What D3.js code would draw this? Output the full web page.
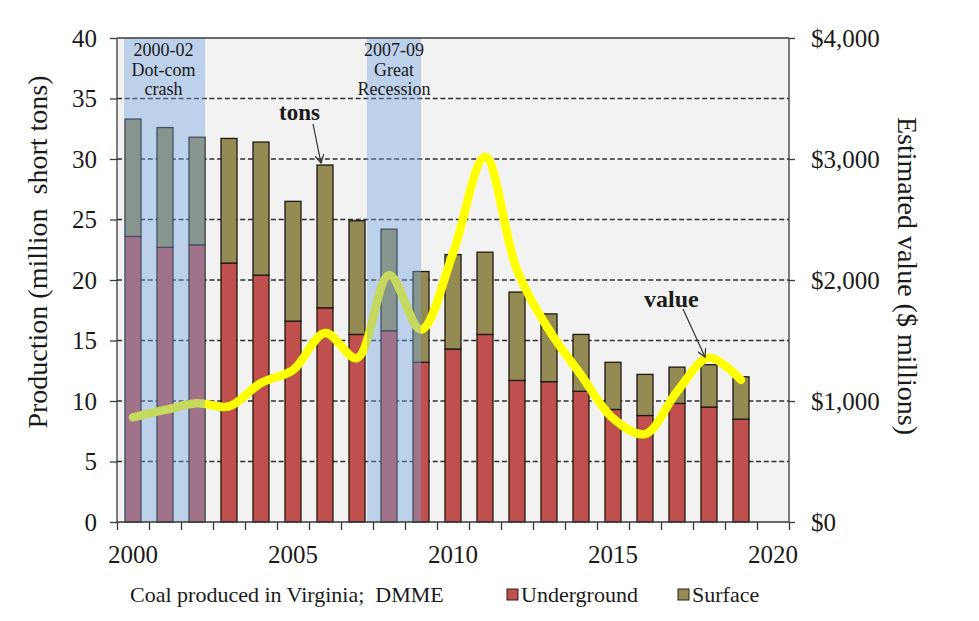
<!DOCTYPE html>
<html>
<head>
<meta charset="utf-8">
<script src="https://cdn.jsdelivr.net/npm/d3@7/dist/d3.min.js"></script>
<style>
  html, body { margin: 0; padding: 0; background: #fff; }
  svg { display: block; }
  text { font-family: "Liberation Serif", "Times New Roman", serif; fill: #1a1a1a; }
</style>
</head>
<body>
<svg id="chart" width="979" height="621"></svg>
<script>
// ---- data ----
const years = [2000,2001,2002,2003,2004,2005,2006,2007,2008,2009,2010,2011,2012,2013,2014,2015,2016,2017,2018,2019];
const axisYears = [2000,2001,2002,2003,2004,2005,2006,2007,2008,2009,2010,2011,2012,2013,2014,2015,2016,2017,2018,2019,2020];
const underground = [23.6,22.7,22.9,21.4,20.4,16.6,17.7,15.5,15.8,13.2,14.3,15.5,11.7,11.6,10.8,9.3,8.8,9.8,9.5,8.5];
const surface     = [9.7,9.9,8.9,10.3,11.0,9.9,11.8,9.4,8.4,7.5,7.8,6.8,7.3,5.6,4.7,3.9,3.4,3.0,3.5,3.5];
const valueMil    = [865,926,981,955,1149,1256,1562,1355,2041,1590,2221,3019,2083,1587,1215,857,727,1077,1358,1174];
const leftTicks   = [0,5,10,15,20,25,30,35,40];
const gridTicks   = [5,10,15,20,25,30,35];
const rightTicks  = [0,1000,2000,3000,4000];
const xLabelYears = [2000,2005,2010,2015,2020];
const recessions  = [
  {from: 1999.72, to: 2002.25, lines: ["2000-02","Dot-com","crash"]},
  {from: 2007.31, to: 2009.0,  lines: ["2007-09","Great","Recession"]}
];
const seriesNames = ["Underground","Surface"];
const seriesColors = ["#c0504d","#948a54"];

// ---- layout ----
const L = 117, R = 789, T = 38, B = 522;
const svg = d3.select("#chart");

const x = d3.scaleBand().domain(axisYears).range([L, R]).paddingInner(0.5).paddingOuter(0.25);
const xEdge = d3.scaleLinear().domain([1999.5, 2020.5]).range([L, R]);
const y = d3.scaleLinear().domain([0, 40]).range([B, T]);
const yR = d3.scaleLinear().domain([0, 4000]).range([B, T]);

// plot background
svg.append("rect").attr("x", L).attr("y", T).attr("width", R - L).attr("height", B - T).attr("fill", "#f2f2f2");

// gridlines
svg.append("g").selectAll("line").data(gridTicks).join("line")
  .attr("x1", L).attr("x2", R).attr("y1", d => y(d)).attr("y2", d => y(d))
  .attr("stroke", "#2e2e2e").attr("stroke-width", 1.5).attr("stroke-dasharray", "5,2.7");

// stacked bars
const rows = years.map((yr, i) => ({year: yr, Underground: underground[i], Surface: surface[i]}));
const stacked = d3.stack().keys(seriesNames)(rows);
svg.append("g").selectAll("g").data(stacked).join("g")
  .attr("fill", (d, i) => seriesColors[i])
  .selectAll("rect").data(d => d).join("rect")
  .attr("x", d => x(d.data.year))
  .attr("width", x.bandwidth())
  .attr("y", d => y(d[1]))
  .attr("height", d => y(d[0]) - y(d[1]))
  .attr("stroke", "#1e1812").attr("stroke-width", 1.3);

// value line
const line = d3.line()
  .x((d, i) => x(years[i]) + x.bandwidth() / 2)
  .y(d => yR(d))
  .curve(d3.curveCatmullRom.alpha(0.5));
svg.append("path").datum(valueMil).attr("d", line)
  .attr("fill", "none").attr("stroke", "#ffff00").attr("stroke-width", 8.5)
  .attr("stroke-linecap", "round").attr("stroke-linejoin", "round");

// recession shading (on top, translucent)
svg.append("g").selectAll("rect").data(recessions).join("rect")
  .attr("x", d => xEdge(d.from)).attr("width", d => xEdge(d.to) - xEdge(d.from))
  .attr("y", T).attr("height", B - T)
  .attr("fill", "rgb(117,164,224)").attr("opacity", 0.42);

// recession labels
recessions.forEach(r => {
  const cx = (xEdge(r.from) + xEdge(r.to)) / 2 + (r.lines[0] === "2000-02" ? -1 : 0);
  r.lines.forEach((t, j) => {
    svg.append("text").attr("x", cx).attr("y", 56 + j * 19.5)
      .attr("text-anchor", "middle").attr("font-size", 18).text(t);
  });
});

// axes frame
const frame = svg.append("g").attr("stroke", "#3a3a3a").attr("stroke-width", 1.3);
frame.append("line").attr("x1", L).attr("x2", R).attr("y1", T).attr("y2", T);
frame.append("line").attr("x1", L).attr("x2", R).attr("y1", B).attr("y2", B);
frame.append("line").attr("x1", L).attr("x2", L).attr("y1", T).attr("y2", B);
frame.append("line").attr("x1", R).attr("x2", R).attr("y1", T).attr("y2", B);

// left axis
const gl = svg.append("g").attr("transform", `translate(${L},0)`)
  .call(d3.axisLeft(y).tickValues(leftTicks).tickSize(7).tickPadding(13));
gl.select(".domain").remove();
gl.selectAll(".tick line").attr("stroke", "#3a3a3a").attr("stroke-width", 1.3);
gl.selectAll(".tick text").attr("font-size", 25).attr("font-family", "Liberation Serif").attr("fill", "#1a1a1a");

// right axis
const gr = svg.append("g").attr("transform", `translate(${R},0)`)
  .call(d3.axisRight(yR).tickValues(rightTicks).tickSize(6).tickPadding(16)
    .tickFormat(d => "$" + d3.format(",")(d)));
gr.select(".domain").remove();
gr.selectAll(".tick line").attr("stroke", "#3a3a3a").attr("stroke-width", 1.3);
gr.selectAll(".tick text").attr("font-size", 25).attr("font-family", "Liberation Serif").attr("fill", "#1a1a1a");

// bottom: boundary ticks
const gbt = svg.append("g").attr("transform", `translate(0,${B})`)
  .call(d3.axisBottom(xEdge).tickValues(axisYears.map(d => d - 0.5).concat([2020.5])).tickSize(8).tickFormat(""));
gbt.select(".domain").remove();
gbt.selectAll(".tick line").attr("stroke", "#3a3a3a").attr("stroke-width", 1.3);

// bottom labels
const gb = svg.append("g").attr("transform", `translate(0,${B})`)
  .call(d3.axisBottom(x).tickValues(xLabelYears).tickSize(0).tickPadding(23));
gb.select(".domain").remove();
gb.selectAll(".tick text").attr("font-size", 25).attr("font-family", "Liberation Serif").attr("fill", "#1a1a1a");

// axis titles
svg.append("text").attr("transform", "translate(47,252) rotate(-90)")
  .attr("text-anchor", "middle").attr("font-size", 28).text("Production (million  short tons)").style("white-space", "pre");
svg.append("text").attr("transform", "translate(898,276) rotate(90)")
  .attr("text-anchor", "middle").attr("font-size", 28).text("Estimated value ($ millions)");

// annotations
const defs = svg.append("defs");
defs.append("marker").attr("id", "arr").attr("viewBox", "0 0 10 10").attr("refX", 9).attr("refY", 5)
  .attr("markerWidth", 9).attr("markerHeight", 9).attr("orient", "auto").attr("markerUnits", "userSpaceOnUse")
  .append("path").attr("d", "M0,0 L9,5 L0,10").attr("fill", "none").attr("stroke", "#333").attr("stroke-width", 1.4);

svg.append("text").attr("x", 279).attr("y", 120).attr("font-size", 23).attr("font-weight", "bold").text("tons");
svg.append("line").attr("x1", 313).attr("y1", 124).attr("x2", 321).attr("y2", 163)
  .attr("stroke", "#333").attr("stroke-width", 1.2).attr("marker-end", "url(#arr)");
svg.append("text").attr("x", 644).attr("y", 307).attr("font-size", 24).attr("font-weight", "bold").text("value");
svg.append("line").attr("x1", 683).attr("y1", 309).attr("x2", 705).attr("y2", 357)
  .attr("stroke", "#333").attr("stroke-width", 1.2).attr("marker-end", "url(#arr)");

// footer & legend
svg.append("text").attr("x", 130).attr("y", 602).attr("font-size", 22).style("white-space", "pre")
  .text("Coal produced in Virginia;  DMME");
const legX = [507, 678];
seriesNames.forEach((n, i) => {
  svg.append("rect").attr("x", legX[i]).attr("y", 589).attr("width", 11).attr("height", 11)
    .attr("fill", seriesColors[i]).attr("stroke", "#2a2018").attr("stroke-width", 1);
  svg.append("text").attr("x", legX[i] + 14).attr("y", 602).attr("font-size", 22).text(n);
});
</script>
</body>
</html>
